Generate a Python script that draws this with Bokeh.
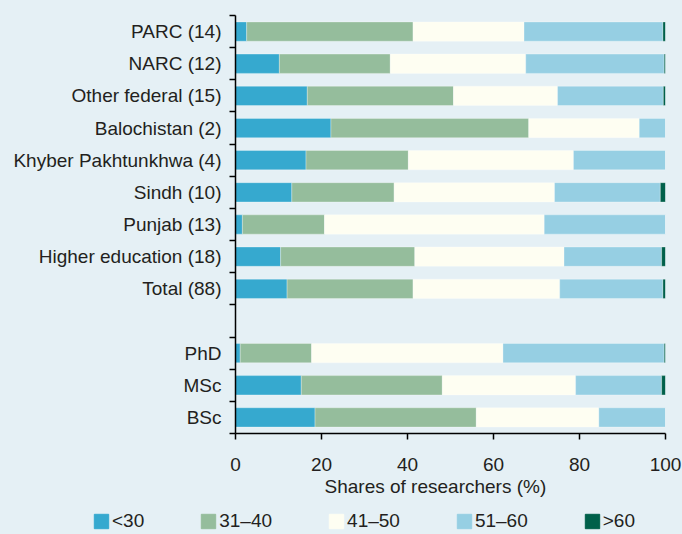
from bokeh.plotting import figure
from bokeh.layouts import column, row
from bokeh.models import (ColumnDataSource, Range1d, FixedTicker, Legend, LegendItem, Title)
from bokeh.embed import file_html
from bokeh.resources import INLINE

# ---- data (shares of researchers, %) ----
categories = ["PARC (14)", "NARC (12)", "Other federal (15)", "Balochistan (2)",
              "Khyber Pakhtunkhwa (4)", "Sindh (10)", "Punjab (13)",
              "Higher education (18)", "Total (88)", "PhD", "MSc", "BSc"]
age_lt30 = [2.6, 10.2, 16.7, 22.2, 16.4, 13.1, 1.6, 10.5, 12.0, 1.1, 15.3, 18.5]
age_31_40 = [38.7, 25.8, 34.0, 46.0, 23.8, 23.8, 19.1, 31.2, 29.3, 16.6, 32.8, 37.5]
age_41_50 = [25.8, 31.5, 24.2, 25.7, 38.4, 37.3, 51.1, 34.7, 34.1, 44.5, 31.0, 28.5]
age_51_60 = [32.3, 32.2, 24.6, 6.1, 21.4, 24.6, 28.2, 22.7, 24.0, 37.5, 20.0, 15.5]
age_gt60 = [0.6, 0.3, 0.5, 0.0, 0.0, 1.2, 0.0, 0.9, 0.6, 0.3, 0.9, 0.0]
series_labels = ["<30", "31\u201340", "41\u201350", "51\u201360", ">60"]
x_ticks = [0, 20, 40, 60, 80, 100]
gap_after = "Total (88)"

# ---- styling ----
BG = "#e5f0f5"
COLORS = ["#36a9cf", "#95bd9c", "#fefef2", "#96cfe3", "#00604a"]
FONT = "Liberation Sans"
TXT = "#231f20"

# slot positions (one empty slot after the gap category), top to bottom
slots = []
s = 0
for c in categories:
    slots.append(s)
    s += 2 if c == gap_after else 1
n_slots = s
ypos = [n_slots - 1 - k for k in slots]

keys = ["lt30", "a31_40", "a41_50", "a51_60", "gt60"]
src = ColumnDataSource(dict(y=ypos, cat=categories, lt30=age_lt30, a31_40=age_31_40,
                            a41_50=age_41_50, a51_60=age_51_60, gt60=age_gt60))

p = figure(width=682, height=505, output_backend="svg", toolbar_location=None,
           x_range=Range1d(0, 100), y_range=Range1d(-0.5, n_slots - 0.5),
           min_border_left=235, min_border_right=17, min_border_top=15,
           min_border_bottom=72, background_fill_color=BG,
           border_fill_color=BG, outline_line_color=None)
p.grid.visible = False

rs = p.hbar_stack(keys, y="y", height=0.6, color=COLORS, source=src,
                  line_color="#ffffff", line_alpha=0.5, line_width=0.6)

# y axis: labels at bar centres, ticks at slot boundaries
yax = p.yaxis[0]
yax.ticker = FixedTicker(ticks=ypos, minor_ticks=[k - 0.5 for k in range(n_slots + 1)])
yax.major_label_overrides = {y: c for y, c in zip(ypos, categories)}
yax.major_tick_line_color = None
yax.major_tick_out = 6
yax.major_tick_in = 0
yax.minor_tick_out = 6
yax.minor_tick_in = 0
yax.minor_tick_line_color = "black"
yax.minor_tick_line_width = 1.5
yax.major_label_standoff = 8
yax.axis_line_color = "black"
yax.axis_line_width = 1.5
yax.major_label_text_font = FONT
yax.major_label_text_font_size = "19px"
yax.major_label_text_color = TXT

xax = p.xaxis[0]
xax.ticker = FixedTicker(ticks=x_ticks)
xax.minor_tick_line_color = None
xax.major_tick_out = 6
xax.major_tick_in = 0
xax.major_tick_line_color = "black"
xax.major_tick_line_width = 1.5
xax.axis_line_color = "black"
xax.axis_line_width = 1.5
xax.major_label_standoff = 18
xax.major_label_text_font = FONT
xax.major_label_text_font_size = "19px"
xax.major_label_text_color = TXT
xax.axis_label = None

t = Title(text="Shares of researchers (%)", align="left", offset=89,
          text_font=FONT, text_font_size="19px", text_font_style="normal",
          text_color=TXT, standoff=1)
p.add_layout(t, "below")

# ---- legend strip (a separate small figure below the chart) ----
lg = figure(width=682, height=29, output_backend="svg", toolbar_location=None,
            x_range=Range1d(0, 1), y_range=Range1d(0, 1),
            min_border_left=0, min_border_right=0, min_border_top=0,
            min_border_bottom=0, background_fill_color=BG,
            border_fill_color=BG, outline_line_color=None)
lg.axis.visible = False
lg.grid.visible = False
# swatch renderers: one off-range row each, used only for the legend keys
swatches = [lg.hbar(y=[-5], right=[1], height=0.5, color=c) for c in COLORS]
legend = Legend(items=[LegendItem(label=l, renderers=[r]) for l, r in zip(series_labels, swatches)],
                orientation="horizontal", location=(92, 2),
                glyph_width=18, glyph_height=18, label_standoff=2, spacing=55,
                padding=0, margin=0, border_line_color=None,
                background_fill_alpha=0, label_text_font=FONT,
                label_text_font_size="19px", label_text_color=TXT, label_height=14)
lg.add_layout(legend)

layout = column(p, row(lg), spacing=0)

html = file_html(layout, INLINE)
html = html.replace("</head>",
                    "<style>html, body { background: %s; }</style></head>" % BG, 1)
open("out.html", "w").write(html)
